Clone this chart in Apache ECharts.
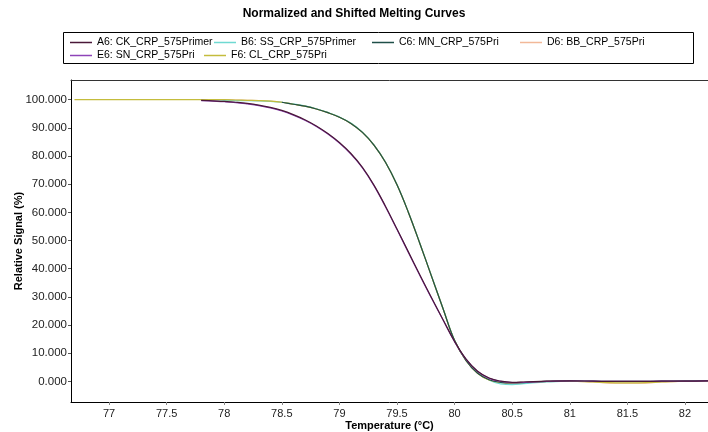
<!DOCTYPE html>
<html>
<head>
<meta charset="utf-8">
<script src="https://cdn.jsdelivr.net/npm/echarts@6/dist/echarts.min.js"></script>
<style>
  html, body { margin: 0; padding: 0; background: #fff; }
  #chart { width: 708px; height: 432px; }
</style>
</head>
<body>
<div id="chart"></div>
<script>
const temps = [76.7, 77.0, 77.5, 77.8, 77.9, 78.0, 78.1, 78.2, 78.3, 78.4,
  78.5, 78.6, 78.7, 78.8, 78.9, 79.0, 79.1, 79.2, 79.3, 79.4,
  79.5, 79.6, 79.7, 79.8, 79.9, 80.0, 80.1, 80.2, 80.3, 80.4,
  80.5, 80.6, 80.8, 81.0, 81.2, 81.4, 81.6, 81.8, 82.0, 82.2];

const a6 = [null, null, null, 99.8, 99.6, 99.4, 99.1, 98.7, 98.1, 97.3,
  96.2, 94.7, 92.9, 90.7, 88.0, 84.8, 80.9, 76.0, 69.7, 62.2,
  54.1, 45.9, 37.7, 29.7, 21.9, 14.2, 7.9, 3.6, 1.2, 0.1,
  -0.3, -0.2, 0.1, 0.2, 0.1, 0.0, 0.0, 0.1, 0.1, 0.2];
const e6 = [null, null, null, 99.7, 99.5, 99.3, 99.0, 98.5, 97.9, 97.1,
  96.0, 94.5, 92.7, 90.5, 87.8, 84.6, 80.7, 75.8, 69.5, 62.0,
  53.9, 45.7, 37.5, 29.5, 21.8, 14.1, 7.8, 3.5, 1.1, 0.0,
  -0.4, -0.3, 0.0, 0.2, 0.1, 0.0, 0.0, 0.1, 0.1, 0.2];
const b6 = [null, null, null, null, 100, 99.8, 99.7, 99.7, 99.6, 99.4,
  99.1, 98.5, 97.8, 96.8, 95.5, 93.9, 91.7, 88.5, 84.0, 77.9,
  69.9, 60.0, 48.9, 37.4, 25.9, 14.6, 7.5, 3.0, 0.5, -0.9,
  -1.1, -0.8, -0.2, 0.1, 0.0, -0.1, -0.1, 0.0, 0.1, 0.3];
const c6 = [null, null, null, null, null, null, null, null, null, null,
  99.1, 98.4, 97.7, 96.7, 95.4, 93.8, 91.6, 88.4, 83.9, 77.8,
  69.8, 59.9, 48.8, 37.3, 25.8, 14.5, 7.4, 2.9, 0.6, -0.3,
  -0.5, -0.4, 0.0, 0.2, 0.1, 0.0, 0.0, 0.1, 0.2, 0.3];
const d6 = [null, null, null, 100, 100, 100, 99.9, 99.8, 99.7, 99.5,
  99.1, 98.4, 97.7, 96.7, 95.4, 93.8, 91.6, 88.4, 83.9, 77.8,
  69.8, 59.9, 48.8, 37.3, 25.8, 14.5, 7.4, 2.9, 0.5, -0.4,
  -0.7, -0.5, -0.1, 0.1, -0.2, -0.6, -0.6, -0.2, 0.1, 0.3];
const f6 = [100, 100, 100, 100, 100, 100, 99.9, 99.8, 99.7, 99.5,
  99.1, 98.4, 97.7, 96.7, 95.4, 93.8, 91.6, 88.4, 83.9, 77.8,
  69.8, 59.9, 48.8, 37.3, 25.8, 14.5, 7.4, 2.9, 0.5, -0.3,
  -0.4, -0.3, 0.0, 0.1, -0.2, -0.5, -0.5, -0.2, 0.1, 0.2];

const seriesNames = ['A6: CK_CRP_575Primer', 'B6: SS_CRP_575Primer', 'C6: MN_CRP_575Pri',
  'D6: BB_CRP_575Pri', 'E6: SN_CRP_575Pri', 'F6: CL_CRP_575Pri'];
const seriesValues = [a6, b6, c6, d6, e6, f6];
const seriesColors = ['#4a1838', '#6fd9d2', '#1f4f48', '#f2b898', '#8e44b8', '#c4bc3c'];

const xTicks = [77, 77.5, 78, 78.5, 79, 79.5, 80, 80.5, 81, 81.5, 82];
const yTicks = [0, 10, 20, 30, 40, 50, 60, 70, 80, 90, 100];

const font = 'Liberation Sans, Arial, sans-serif';

// legend slots inside the box: [left, top]
const legendSlots = [[70, 37], [214, 37], [372, 37], [520, 37], [70, 50], [204, 50]];

const pairs = vals => temps.map((t, i) => [t, vals[i]]);

// draw the late group first so the dark lines sit on top
const drawOrder = [3, 1, 5, 2, 4, 0];

const chart = echarts.init(document.getElementById('chart'));

chart.setOption({
  animation: false,
  backgroundColor: '#fff',
  title: {
    text: 'Normalized and Shifted Melting Curves',
    left: 'center',
    top: 8,
    padding: 0,
    textStyle: { fontFamily: font, fontSize: 12, fontWeight: 'bold', color: '#000' },
  },
  legend: seriesNames.map((name, i) => ({
    data: [name],
    left: legendSlots[i][0],
    top: legendSlots[i][1],
    padding: 0,
    itemWidth: 22,
    itemHeight: 1.5,
    itemGap: 0,
    icon: 'rect',
    textStyle: { fontFamily: font, fontSize: 10.5, color: '#000' },
  })),
  graphic: [{
    type: 'rect',
    shape: { x: 63.5, y: 32.5, width: 630, height: 31 },
    style: { fill: 'none', stroke: '#000', lineWidth: 1 },
    z: -1,
  }],
  grid: { left: 71, right: 0, top: 80, bottom: 30, outerBoundsMode: 'none' },
  xAxis: [{
    type: 'value',
    min: 76.67,
    max: 82.2,
    name: 'Temperature (°C)',
    nameLocation: 'middle',
    nameGap: 18,
    nameMoveOverlap: false,
    nameTextStyle: { fontFamily: font, fontSize: 11, fontWeight: 'bold', color: '#000' },
    axisLine: { onZero: false, lineStyle: { color: '#000', width: 1 } },
    axisTick: { show: true, customValues: xTicks, length: 3, lineStyle: { color: '#888' } },
    axisLabel: {
      customValues: xTicks,
      formatter: v => String(v),
      fontFamily: font, fontSize: 11, color: '#222', margin: 6,
    },
    splitLine: { show: false },
  }, {
    type: 'value',
    position: 'top',
    min: 76.67,
    max: 82.2,
    axisLine: { show: true, onZero: false, lineStyle: { color: '#333' } },
    axisTick: { show: false },
    axisLabel: { show: false },
    splitLine: { show: false },
  }],
  yAxis: {
    type: 'value',
    min: -7.3,
    max: 107,
    name: 'Relative Signal (%)',
    nameLocation: 'middle',
    nameGap: 47,
    nameMoveOverlap: false,
    nameTextStyle: { fontFamily: font, fontSize: 11, fontWeight: 'bold', color: '#000' },
    axisLine: { show: true, onZero: false, lineStyle: { color: '#000', width: 1 } },
    axisTick: { show: true, customValues: yTicks, length: 3, lineStyle: { color: '#555' } },
    axisLabel: {
      customValues: yTicks,
      formatter: v => v.toFixed(3),
      fontFamily: font, fontSize: 11.5, color: '#222', margin: 4,
    },
    splitLine: { show: false },
  },
  series: drawOrder.map(i => ({
    name: seriesNames[i],
    type: 'line',
    data: pairs(seriesValues[i]),
    smooth: 0.4,
    showSymbol: false,
    symbol: 'none',
    connectNulls: false,
    color: seriesColors[i],
    lineStyle: { width: 1.2, color: seriesColors[i] },
  })),
});

window.addEventListener('resize', () => chart.resize());
</script>
</body>
</html>
